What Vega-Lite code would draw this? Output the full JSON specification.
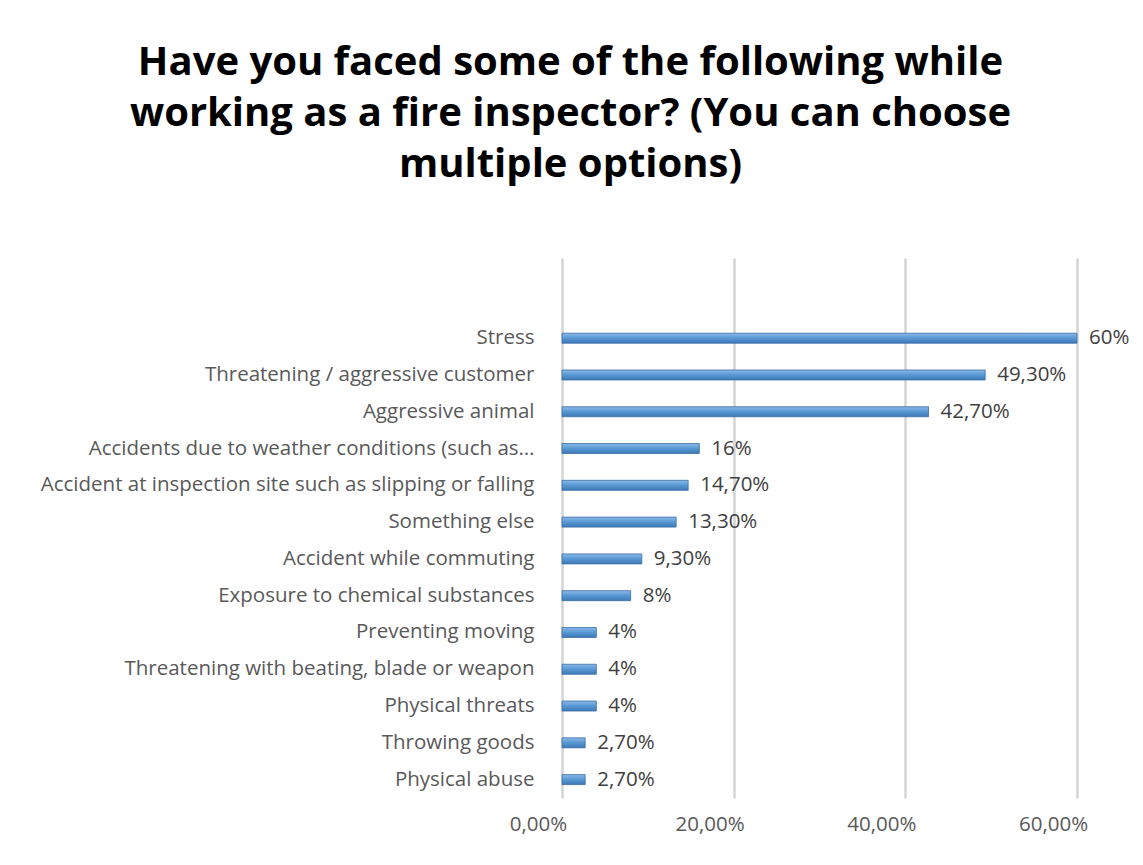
{
  "$schema": "https://vega.github.io/schema/vega-lite/v6.json",
  "width": 515,
  "height": 540,
  "autosize": {"type": "none"},
  "padding": {"left": 562, "top": 258, "right": 66, "bottom": 67},
  "background": "white",
  "config": {
    "locale": {"number": {"decimal": ",", "thousands": ".", "grouping": [3], "currency": ["", " €"]}},
    "view": {"stroke": null},
    "font": "Open Sans"
  },
  "title": {
    "text": ["Have you faced some of the following while", "working as a fire inspector? (You can choose", "multiple options)"],
    "font": "Open Sans",
    "fontSize": 40,
    "fontWeight": "bold",
    "color": "#000000",
    "lineHeight": 51,
    "anchor": "middle",
    "dx": -249,
    "offset": 73
  },
  "data": {
    "values": [
      {"item": "Stress", "share": 0.60, "label": "60%"},
      {"item": "Threatening / aggressive customer", "share": 0.493, "label": "49,30%"},
      {"item": "Aggressive animal", "share": 0.427, "label": "42,70%"},
      {"item": "Accidents due to weather conditions (such as…", "share": 0.16, "label": "16%"},
      {"item": "Accident at inspection site such as slipping or falling", "share": 0.147, "label": "14,70%"},
      {"item": "Something else", "share": 0.133, "label": "13,30%"},
      {"item": "Accident while commuting", "share": 0.093, "label": "9,30%"},
      {"item": "Exposure to chemical substances", "share": 0.08, "label": "8%"},
      {"item": "Preventing moving", "share": 0.04, "label": "4%"},
      {"item": "Threatening with beating, blade or weapon", "share": 0.04, "label": "4%"},
      {"item": "Physical threats", "share": 0.04, "label": "4%"},
      {"item": "Throwing goods", "share": 0.027, "label": "2,70%"},
      {"item": "Physical abuse", "share": 0.027, "label": "2,70%"}
    ]
  },
  "encoding": {
    "y": {
      "field": "item",
      "type": "nominal",
      "sort": null,
      "scale": {"paddingInner": 0, "paddingOuter": 0.84, "align": 1},
      "axis": {
        "title": null,
        "ticks": false,
        "domain": false,
        "labelPadding": 28,
        "labelFontSize": 20.5,
        "labelColor": "#595959",
        "labelFont": "Open Sans",
        "labelLimit": 700
      }
    },
    "x": {
      "field": "share",
      "type": "quantitative",
      "scale": {"domain": [0, 0.6], "nice": false},
      "axis": {
        "title": null,
        "format": ".2%",
        "values": [0, 0.2, 0.4, 0.6],
        "ticks": false,
        "domain": false,
        "grid": true,
        "gridColor": "#D4D4D4",
        "gridWidth": 2.5,
        "labelFlush": false,
        "labelOffset": -24,
        "labelPadding": 16,
        "labelFontSize": 20.5,
        "labelColor": "#595959",
        "labelFont": "Open Sans"
      }
    }
  },
  "layer": [
    {
      "mark": {
        "type": "bar",
        "size": 10,
        "stroke": "#3A6EA5",
        "strokeWidth": 0.8,
        "color": {
          "gradient": "linear",
          "x1": 0, "y1": 0, "x2": 0, "y2": 1,
          "stops": [
            {"offset": 0, "color": "#8DB8E8"},
            {"offset": 0.45, "color": "#5B9BD5"},
            {"offset": 1, "color": "#3D78B8"}
          ]
        }
      }
    },
    {
      "mark": {
        "type": "text",
        "align": "left",
        "baseline": "middle",
        "dx": 12,
        "fontSize": 20.5,
        "color": "#404040",
        "font": "Open Sans"
      },
      "encoding": {"text": {"field": "label"}}
    }
  ]
}
